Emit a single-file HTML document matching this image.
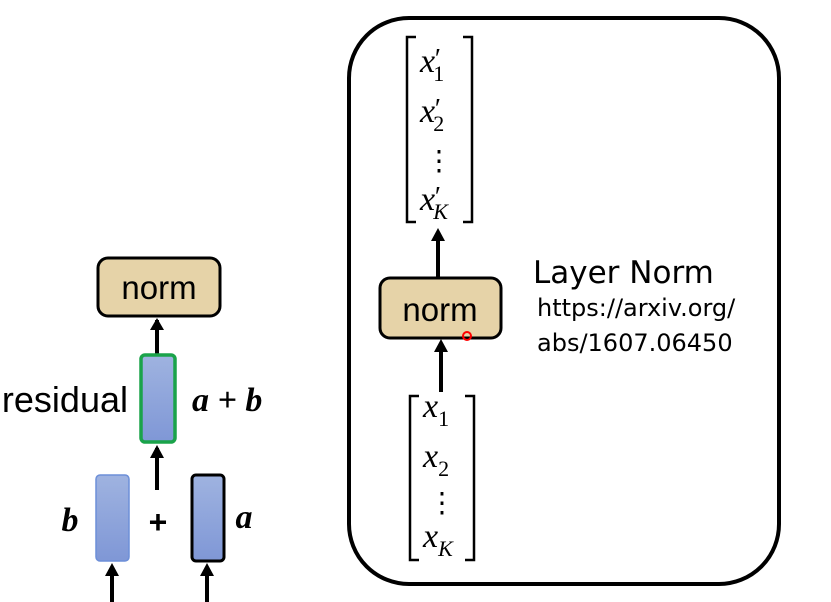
<!DOCTYPE html>
<html><head><meta charset="utf-8"><style>
body{margin:0;background:#fff;}
svg{display:block}
.m{font-family:"Liberation Serif",serif;font-style:italic;}
.s{font-family:"Liberation Serif",serif;font-style:normal;}
</style></head><body>
<svg width="831" height="602" viewBox="0 0 831 602" xmlns="http://www.w3.org/2000/svg">
<defs>
<linearGradient id="bl" x1="0" y1="0" x2="0" y2="1"><stop offset="0" stop-color="#9fb3e0"/><stop offset="1" stop-color="#7f97d6"/></linearGradient>
</defs>
<!-- left -->
<rect x="98" y="258" width="122" height="58" rx="10" fill="#e6d3a8" stroke="#000" stroke-width="3"/>
<text x="159" y="299" font-family="Liberation Sans,sans-serif" font-size="33" text-anchor="middle">norm</text>
<line x1="157" y1="355" x2="157" y2="320" stroke="#000" stroke-width="4"/>
<path d="M150,330 L157,318 L164,330 Z"/>
<rect x="141" y="355" width="34" height="87" rx="4" fill="url(#bl)" stroke="#1aa34a" stroke-width="3.5"/>
<text x="128" y="412" font-family="Liberation Sans,sans-serif" font-size="36" text-anchor="end">residual</text>
<text x="192" y="411" class="m" font-size="34" font-weight="bold">a + b</text>
<line x1="157" y1="490" x2="157" y2="448" stroke="#000" stroke-width="4"/>
<path d="M150,458 L157,445 L164,458 Z"/>
<rect x="96" y="475" width="33" height="86" rx="4" fill="url(#bl)" stroke="#6d8fd8" stroke-width="1.5"/>
<rect x="192" y="475" width="32" height="86" rx="4" fill="url(#bl)" stroke="#000" stroke-width="3"/>
<text x="70" y="531" class="m" font-size="34" font-weight="bold" text-anchor="middle">b</text>
<text x="158" y="533" font-family="Liberation Sans,sans-serif" font-size="32" font-weight="bold" text-anchor="middle">+</text>
<text x="244" y="528" class="m" font-size="34" font-weight="bold" text-anchor="middle">a</text>
<line x1="112" y1="602" x2="112" y2="568" stroke="#000" stroke-width="4"/>
<path d="M105,576 L112,563 L119,576 Z"/>
<line x1="207" y1="602" x2="207" y2="568" stroke="#000" stroke-width="4"/>
<path d="M200,576 L207,563 L214,576 Z"/>
<!-- right box -->
<rect x="349" y="18" width="430" height="566" rx="60" fill="none" stroke="#000" stroke-width="4"/>
<path d="M416,37 H407 V222 H416" fill="none" stroke="#000" stroke-width="2.5"/>
<path d="M463,37 H472 V222 H463" fill="none" stroke="#000" stroke-width="2.5"/>
<text x="420" y="72" class="m" font-size="34">x<tspan font-size="28" dx="-2" dy="-4">′</tspan><tspan class="s" font-size="22" dx="-6" dy="13">1</tspan></text>
<text x="420" y="122" class="m" font-size="34">x<tspan font-size="28" dx="-2" dy="-4">′</tspan><tspan class="s" font-size="22" dx="-6" dy="13">2</tspan></text>
<text x="439" y="170" font-family="Liberation Serif,serif" font-size="28" text-anchor="middle">⋮</text>
<text x="420" y="210" class="m" font-size="34">x<tspan font-size="28" dx="-2" dy="-4">′</tspan><tspan font-size="22" dx="-6" dy="13">K</tspan></text>
<line x1="438" y1="277" x2="438" y2="233" stroke="#000" stroke-width="4"/>
<path d="M431,241 L438,228 L445,241 Z"/>
<rect x="380" y="278" width="121" height="60" rx="10" fill="#e6d3a8" stroke="#000" stroke-width="3"/>
<text x="440" y="321" font-family="Liberation Sans,sans-serif" font-size="33" text-anchor="middle">norm</text>
<circle cx="467" cy="336" r="4" fill="none" stroke="#f00" stroke-width="2"/>
<line x1="441" y1="392" x2="441" y2="345" stroke="#000" stroke-width="4"/>
<path d="M434,352 L441,339 L448,352 Z"/>
<path d="M419,396 H410 V560 H419" fill="none" stroke="#000" stroke-width="2.5"/>
<path d="M465,396 H474 V560 H465" fill="none" stroke="#000" stroke-width="2.5"/>
<text x="423" y="417" class="m" font-size="34">x<tspan class="s" font-size="22" dy="9">1</tspan></text>
<text x="423" y="467" class="m" font-size="34">x<tspan class="s" font-size="22" dy="9">2</tspan></text>
<text x="442" y="512" font-family="Liberation Serif,serif" font-size="28" text-anchor="middle">⋮</text>
<text x="423" y="547" class="m" font-size="34">x<tspan font-size="22" dy="9">K</tspan></text>
<text x="533" y="283" font-family="DejaVu Sans,sans-serif" font-size="31">Layer Norm</text>
<text x="537" y="316" font-family="DejaVu Sans,sans-serif" font-size="24">https://arxiv.org/</text>
<text x="537" y="351" font-family="DejaVu Sans,sans-serif" font-size="24">abs/1607.06450</text>
</svg>
</body></html>
